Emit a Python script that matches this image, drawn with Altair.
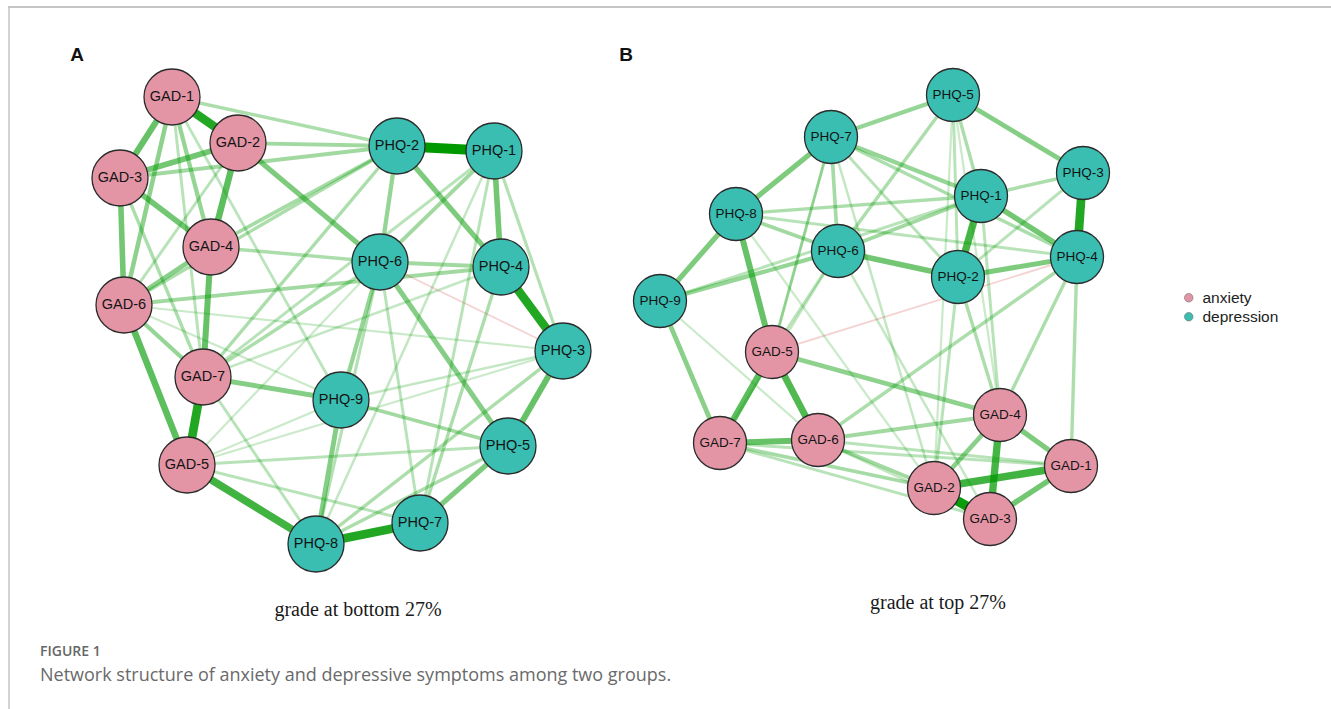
import altair as alt
import pandas as pd

# ---- symptoms and their groups -------------------------------------------
node_names = ["GAD-1", "GAD-2", "GAD-3", "GAD-4", "GAD-5", "GAD-6", "GAD-7",
              "PHQ-1", "PHQ-2", "PHQ-3", "PHQ-4", "PHQ-5", "PHQ-6", "PHQ-7",
              "PHQ-8", "PHQ-9"]
node_group = ["anxiety"] * 7 + ["depression"] * 9

# ---- spring-layout coordinates of each network (figure coordinate space) --
layout_a_x = [172, 238, 120, 211, 187, 124, 203, 494, 397, 563, 501, 508, 380, 420, 316, 341]
layout_a_y = [97, 143, 178, 247, 465, 305, 377, 151, 146, 351, 267, 446, 262, 523, 544, 400]
layout_b_x = [1071, 934, 990, 1000, 772, 818, 720, 981, 958, 1083, 1077, 953, 838, 831, 736, 660]
layout_b_y = [466, 488, 519, 415, 352, 440, 443, 196, 277, 173, 257, 95, 251, 137, 214, 301]

# ---- partial-correlation edges (source, target, weight) -------------------
edges_a = [
    ("PHQ-2", "PHQ-1", 1.00), ("GAD-1", "GAD-2", 0.85), ("PHQ-4", "PHQ-3", 0.85),
    ("GAD-7", "GAD-5", 0.85), ("PHQ-8", "PHQ-7", 0.85), ("GAD-5", "PHQ-8", 0.72),
    ("GAD-6", "GAD-5", 0.60), ("GAD-2", "GAD-4", 0.60), ("GAD-4", "GAD-7", 0.55),
    ("GAD-1", "GAD-3", 0.55), ("GAD-3", "GAD-2", 0.50), ("GAD-3", "GAD-4", 0.50),
    ("GAD-3", "GAD-6", 0.50), ("PHQ-1", "PHQ-4", 0.50), ("PHQ-3", "PHQ-5", 0.55),
    ("PHQ-7", "PHQ-5", 0.45), ("GAD-2", "PHQ-6", 0.45), ("PHQ-2", "PHQ-4", 0.45),
    ("PHQ-6", "PHQ-5", 0.42), ("GAD-7", "PHQ-9", 0.42), ("PHQ-9", "PHQ-8", 0.42),
    ("PHQ-6", "PHQ-9", 0.35), ("GAD-1", "GAD-4", 0.35), ("GAD-1", "GAD-6", 0.38),
    ("GAD-4", "GAD-6", 0.40), ("GAD-6", "GAD-7", 0.35), ("GAD-3", "GAD-7", 0.25),
    ("GAD-2", "GAD-6", 0.20), ("GAD-1", "GAD-7", 0.20), ("PHQ-2", "PHQ-6", 0.35),
    ("PHQ-1", "PHQ-6", 0.30), ("PHQ-6", "PHQ-4", 0.30), ("PHQ-1", "PHQ-3", 0.22),
    ("GAD-2", "PHQ-2", 0.30), ("GAD-1", "PHQ-2", 0.25), ("GAD-3", "PHQ-2", 0.30),
    ("GAD-4", "PHQ-2", 0.28), ("GAD-6", "PHQ-4", 0.30), ("GAD-4", "PHQ-6", 0.25),
    ("GAD-6", "PHQ-2", 0.25), ("GAD-7", "PHQ-2", 0.25), ("GAD-7", "PHQ-1", 0.20),
    ("GAD-7", "PHQ-6", 0.25), ("GAD-7", "PHQ-4", 0.15), ("PHQ-9", "PHQ-5", 0.30),
    ("GAD-5", "PHQ-7", 0.20), ("GAD-5", "PHQ-5", 0.20), ("GAD-5", "PHQ-3", 0.12),
    ("PHQ-8", "PHQ-5", 0.25), ("PHQ-8", "PHQ-3", 0.25), ("PHQ-8", "PHQ-6", 0.22),
    ("PHQ-7", "PHQ-4", 0.25), ("PHQ-7", "PHQ-6", 0.20), ("PHQ-7", "PHQ-1", 0.20),
    ("PHQ-8", "PHQ-1", 0.15), ("GAD-7", "PHQ-8", 0.20), ("GAD-1", "PHQ-9", 0.18),
    ("GAD-6", "PHQ-9", 0.12), ("PHQ-9", "PHQ-3", 0.15), ("GAD-5", "PHQ-9", 0.12),
    ("GAD-5", "PHQ-6", 0.12), ("GAD-6", "PHQ-3", 0.12), ("PHQ-6", "PHQ-3", -0.08),
]
edges_b = [
    ("GAD-2", "GAD-3", 0.95), ("PHQ-3", "PHQ-4", 0.85), ("GAD-4", "GAD-3", 0.70),
    ("GAD-2", "GAD-1", 0.72), ("PHQ-1", "PHQ-2", 0.70), ("GAD-5", "GAD-6", 0.65),
    ("GAD-5", "GAD-7", 0.60), ("PHQ-8", "GAD-5", 0.55), ("GAD-7", "GAD-6", 0.55),
    ("GAD-3", "GAD-1", 0.50), ("GAD-4", "GAD-1", 0.45), ("GAD-4", "GAD-2", 0.40),
    ("PHQ-1", "PHQ-4", 0.50), ("PHQ-6", "PHQ-2", 0.50), ("PHQ-2", "PHQ-4", 0.45),
    ("PHQ-7", "PHQ-8", 0.45), ("PHQ-8", "PHQ-9", 0.45), ("PHQ-9", "GAD-7", 0.40),
    ("PHQ-5", "PHQ-3", 0.42), ("PHQ-5", "PHQ-7", 0.35), ("PHQ-7", "PHQ-1", 0.35),
    ("PHQ-7", "PHQ-4", 0.25), ("PHQ-9", "PHQ-6", 0.35), ("GAD-5", "GAD-4", 0.38),
    ("PHQ-8", "PHQ-6", 0.30), ("PHQ-8", "PHQ-1", 0.25), ("PHQ-5", "PHQ-1", 0.25),
    ("PHQ-5", "PHQ-2", 0.20), ("PHQ-6", "PHQ-1", 0.30), ("PHQ-6", "PHQ-5", 0.25),
    ("PHQ-3", "PHQ-1", 0.25), ("PHQ-3", "PHQ-2", 0.20), ("GAD-6", "GAD-4", 0.30),
    ("GAD-6", "GAD-2", 0.30), ("GAD-7", "GAD-2", 0.28), ("GAD-7", "GAD-3", 0.20),
    ("GAD-7", "GAD-1", 0.20), ("GAD-6", "GAD-1", 0.20), ("GAD-6", "GAD-3", 0.15),
    ("GAD-6", "PHQ-4", 0.25), ("GAD-4", "PHQ-2", 0.25), ("GAD-4", "PHQ-1", 0.20),
    ("GAD-4", "PHQ-4", 0.25), ("GAD-1", "PHQ-4", 0.25), ("GAD-2", "PHQ-2", 0.20),
    ("GAD-7", "PHQ-6", 0.15), ("GAD-5", "PHQ-7", 0.20), ("GAD-5", "PHQ-6", 0.18),
    ("PHQ-9", "GAD-6", 0.12), ("PHQ-8", "GAD-2", 0.12), ("PHQ-7", "GAD-2", 0.15),
    ("PHQ-6", "GAD-3", 0.15), ("PHQ-5", "GAD-4", 0.12), ("PHQ-5", "GAD-2", 0.12),
    ("PHQ-8", "PHQ-4", 0.20), ("PHQ-9", "PHQ-1", 0.20), ("PHQ-7", "PHQ-2", 0.20),
    ("PHQ-7", "PHQ-6", 0.28), ("PHQ-7", "GAD-5", 0.15), ("GAD-5", "PHQ-4", -0.08),
]

# ---- text ------------------------------------------------------------------
panel_letters = ["A", "B"]
panel_titles = ["grade at bottom 27%", "grade at top 27%"]
figure_label = "FIGURE 1"
figure_caption = "Network structure of anxiety and depressive symptoms among two groups."

W, H = 1331, 709


def node_table(xs, ys, panel):
    return pd.DataFrame({"name": node_names, "group": node_group,
                         "x": xs, "y": ys, "panel": panel})


def edge_table(edges, nodes):
    pos = nodes.set_index("name")
    rows = []
    for s, t, w in edges:
        rows.append({"x": pos.at[s, "x"], "y": pos.at[s, "y"],
                     "x2": pos.at[t, "x"], "y2": pos.at[t, "y"],
                     "strength": abs(w),
                     "sign": "positive" if w > 0 else "negative"})
    return pd.DataFrame(rows)


nodes_a = node_table(layout_a_x, layout_a_y, "A")
nodes_b = node_table(layout_b_x, layout_b_y, "B")
edges = pd.concat([edge_table(edges_a, nodes_a), edge_table(edges_b, nodes_b)])
edges = edges.sort_values("strength").reset_index(drop=True)

xs = alt.Scale(domain=[0, W], nice=False, zero=False)
ys = alt.Scale(domain=[0, H], nice=False, zero=False, reverse=True)

edge_layer = alt.Chart(edges).mark_rule(strokeCap="butt").encode(
    x=alt.X("x:Q", scale=xs, axis=None),
    y=alt.Y("y:Q", scale=ys, axis=None),
    x2="x2:Q",
    y2="y2:Q",
    stroke=alt.Stroke("sign:N", scale=alt.Scale(domain=["positive", "negative"],
                                                 range=["#009900", "#BF0000"]), legend=None),
    strokeWidth=alt.StrokeWidth("strength:Q", scale=alt.Scale(domain=[0, 1], range=[1.2, 10]),
                                legend=None),
    opacity=alt.Opacity("strength:Q", scale=alt.Scale(domain=[0, 1], range=[0.1, 1.0]),
                        legend=None),
)

fill_scale = alt.Scale(domain=["anxiety", "depression"], range=["#E495A5", "#39BEB1"])
legend = alt.Legend(orient="none", legendX=1181, legendY=290, title=None,
                    symbolType="circle", symbolSize=72, symbolStrokeColor="#6b6b6b",
                    symbolStrokeWidth=0.6, labelFont="Liberation Sans", labelFontSize=15.5,
                    labelColor="#222222", rowPadding=2, padding=0, labelOffset=6)


def node_layers(nodes, diameter, font_size):
    circles = alt.Chart(nodes).mark_circle(size=diameter ** 2, opacity=1, stroke="#2b2b2b",
                                           strokeWidth=1.3).encode(
        x=alt.X("x:Q", scale=xs, axis=None),
        y=alt.Y("y:Q", scale=ys, axis=None),
        fill=alt.Fill("group:N", scale=fill_scale, legend=legend),
    )
    labels = alt.Chart(nodes).mark_text(font="Liberation Sans", fontSize=font_size,
                                        color="#141414").encode(
        x=alt.X("x:Q", scale=xs, axis=None),
        y=alt.Y("y:Q", scale=ys, axis=None),
        text="name:N",
    )
    return [circles, labels]


def static_text(text, x, y, **kw):
    return alt.Chart(pd.DataFrame({"t": [text]})).mark_text(x=x, y=y, **kw).encode(text="t:N")


frame = alt.Chart(pd.DataFrame({"k": [0]})).mark_rule(color="#c4c4c4", strokeWidth=2).encode(
    x=alt.value(8), x2=alt.value(W), y=alt.value(7))
frame_left = alt.Chart(pd.DataFrame({"k": [0]})).mark_rule(color="#c4c4c4", strokeWidth=1.5).encode(
    x=alt.value(9), y=alt.value(7), y2=alt.value(H))

layers = [frame, frame_left, edge_layer]
layers += node_layers(nodes_a, 56, 14.5)
layers += node_layers(nodes_b, 53, 13.5)
layers += [
    static_text(panel_letters[0], 77, 55, font="Liberation Sans", fontSize=19,
                fontWeight="bold", color="#111111"),
    static_text(panel_letters[1], 626, 55, font="Liberation Sans", fontSize=19,
                fontWeight="bold", color="#111111"),
    static_text(panel_titles[0], 358, 610, font="Liberation Serif", fontSize=20,
                color="#1a1a1a"),
    static_text(panel_titles[1], 938, 603, font="Liberation Serif", fontSize=20,
                color="#1a1a1a"),
    static_text(figure_label, 40, 652, font="Open Sans", fontSize=14, fontWeight=600,
                align="left", color="#666666"),
    static_text(figure_caption, 40, 676, font="Open Sans", fontSize=18, align="left",
                color="#6a6a6a"),
]

chart = alt.layer(*layers).properties(
    width=W, height=H, padding=0, autosize="none", background="white"
).configure_view(stroke=None)

chart.save("out.html", embed_options={"renderer": "svg", "actions": False})
